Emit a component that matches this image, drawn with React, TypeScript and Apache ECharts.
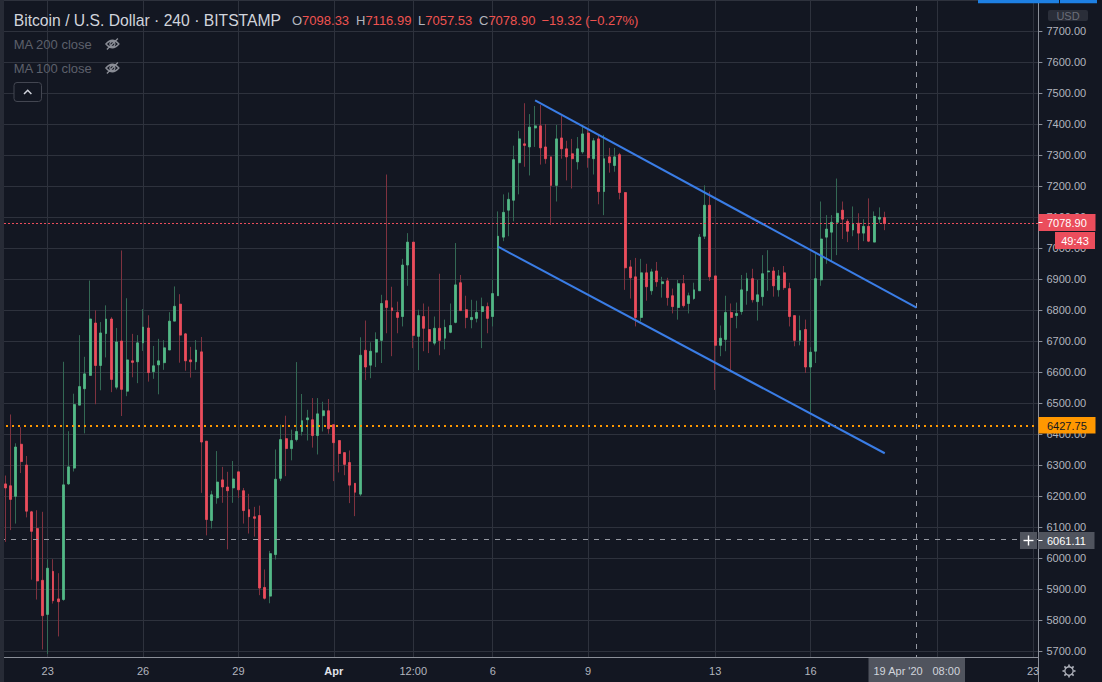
import React, { useEffect, useRef } from "react";
import * as echarts from "echarts";

const FONT = "'Liberation Sans', Arial, sans-serif";

// 4h slots, index 0 = 21 Mar 2020 12:00
const SLOT_COUNT = 197;
const FIRST_CANDLE_SLOT = 1;

const candleOpen = [
  6239, 6233, 6199, 6367, 6300, 6149, 6095, 5928, 5818, 5957,
  5868, 5866, 6239, 6290, 6493, 6546, 6589, 6758, 6621, 6724,
  6771, 6551, 6700, 6538, 6636, 6633, 6694, 6742, 6601, 6623,
  6630, 6671, 6764, 6819, 6723, 6639, 6633, 6665, 6377, 6121,
  6194, 6252, 6229, 6226, 6278, 6217, 6156, 6133, 6137, 5905,
  5877, 6011, 6257, 6385, 6353, 6382, 6408, 6446, 6446, 6395,
  6459, 6475, 6430, 6379, 6340, 6308, 6241, 6206, 6670, 6622,
  6664, 6702, 6830, 6807, 6792, 6779, 6945, 7019, 6715, 6779,
  6737, 6693, 6741, 6709, 6728, 6760, 6888, 6801, 6769, 6773,
  6795, 6811, 6779, 6846, 7035, 7122, 7154, 7275, 7336, 7326,
  7387, 7394, 7326, 7294, 7202, 7355, 7320, 7304, 7278, 7310,
  7371, 7288, 7352, 7182, 7294, 7266, 7301, 7179, 6939, 6907,
  6776, 6920, 6862, 6926, 6885, 6894, 6846, 6808, 6885, 6821,
  6837, 6862, 7038, 7138, 6910, 6686, 6705, 6792, 6782, 6795,
  6862, 6901, 6827, 6843, 6923, 6926, 6865, 6920, 6869, 6782,
  6702, 6737, 6616, 6667, 6897, 7035, 7051, 7083, 7122, 7086,
  7058, 7080, 7048, 7070, 7019, 7093, 7098.33,
];
const candleHigh = [
  6266, 6463, 6370, 6422, 6329, 6152, 6154, 6149, 5996, 5996,
  5951, 6633, 6409, 6530, 6719, 6649, 6895, 6799, 6761, 6815,
  6777, 6742, 6992, 6838, 6723, 6719, 6803, 6783, 6684, 6707,
  6703, 6793, 6876, 6851, 6726, 6681, 6703, 6713, 6377, 6217,
  6345, 6294, 6278, 6313, 6278, 6226, 6207, 6165, 6169, 5963,
  6023, 6350, 6430, 6459, 6414, 6632, 6529, 6478, 6516, 6516,
  6504, 6513, 6430, 6379, 6340, 6347, 6241, 6712, 6766, 6696,
  6728, 6849, 7237, 6875, 6827, 6965, 7048, 7019, 6801, 6821,
  6811, 6779, 6917, 6769, 6821, 7016, 6913, 6846, 6833, 6830,
  6840, 6824, 6897, 7118, 7173, 7179, 7330, 7378, 7467, 7432,
  7458, 7461, 7400, 7294, 7397, 7426, 7346, 7352, 7358, 7397,
  7384, 7355, 7362, 7365, 7323, 7323, 7307, 7179, 6961, 6968,
  6965, 6949, 6933, 6955, 6907, 6904, 6869, 6897, 6913, 6856,
  6888, 7045, 7202, 7182, 6910, 6750, 6846, 6821, 6824, 6913,
  6920, 6933, 6897, 6977, 6993, 6939, 6929, 6942, 6888, 6782,
  6782, 6769, 6680, 6981, 7150, 7106, 7106, 7224, 7150, 7093,
  7134, 7112, 7093, 7160, 7118, 7131, 7116.99,
];
const candleLow = [
  6052, 6090, 6111, 6274, 6131, 5930, 5866, 5705, 5690, 5853,
  5747, 5862, 6236, 6279, 6493, 6402, 6589, 6496, 6541, 6647,
  6535, 6544, 6458, 6522, 6583, 6564, 6668, 6569, 6578, 6528,
  6607, 6671, 6764, 6630, 6604, 6582, 6607, 6210, 6073, 6095,
  6175, 6178, 6028, 6178, 6194, 6111, 6079, 6069, 5880, 5866,
  5854, 5995, 6248, 6264, 6315, 6376, 6395, 6379, 6356, 6334,
  6408, 6401, 6248, 6276, 6267, 6177, 6135, 6200, 6574, 6580,
  6616, 6629, 6725, 6651, 6725, 6747, 6878, 6677, 6606, 6667,
  6661, 6686, 6654, 6673, 6725, 6757, 6798, 6741, 6741, 6760,
  6677, 6725, 6747, 6846, 7022, 7038, 7086, 7173, 7262, 7234,
  7326, 7269, 7272, 7074, 7150, 7288, 7218, 7192, 7253, 7304,
  7259, 7237, 7141, 7106, 7243, 7246, 7157, 6865, 6837, 6747,
  6763, 6830, 6849, 6875, 6840, 6814, 6789, 6769, 6808, 6789,
  6833, 6862, 7029, 6894, 6542, 6651, 6667, 6606, 6741, 6785,
  6817, 6824, 6766, 6814, 6862, 6843, 6843, 6865, 6747, 6683,
  6686, 6597, 6470, 6629, 6878, 6949, 6958, 6977, 7029, 7019,
  7038, 6994, 7022, 7019, 7019, 7080, 7057.53,
];
const candleClose = [
  6226, 6189, 6358, 6311, 6151, 6086, 5926, 5814, 5967, 5862,
  5859, 6236, 6294, 6495, 6553, 6594, 6771, 6621, 6726, 6771,
  6576, 6697, 6544, 6639, 6631, 6694, 6745, 6598, 6620, 6636,
  6678, 6764, 6812, 6719, 6636, 6633, 6671, 6374, 6124, 6204,
  6245, 6229, 6217, 6255, 6220, 6153, 6133, 6128, 5903, 5870,
  6014, 6254, 6382, 6353, 6379, 6408, 6443, 6452, 6395, 6465,
  6475, 6417, 6372, 6337, 6302, 6235, 6212, 6654, 6616, 6667,
  6705, 6821, 6808, 6798, 6776, 6945, 7019, 6718, 6782, 6741,
  6699, 6741, 6702, 6744, 6750, 6881, 6798, 6776, 6776, 6792,
  6811, 6773, 6853, 7038, 7115, 7157, 7285, 7352, 7331, 7390,
  7394, 7323, 7288, 7202, 7352, 7320, 7294, 7288, 7320, 7368,
  7291, 7346, 7182, 7288, 7275, 7294, 7179, 6936, 6904, 6776,
  6920, 6875, 6923, 6891, 6891, 6840, 6811, 6885, 6814, 6846,
  6865, 7035, 7138, 6907, 6686, 6709, 6792, 6776, 6789, 6865,
  6901, 6833, 6849, 6917, 6926, 6878, 6910, 6872, 6779, 6702,
  6734, 6616, 6664, 6901, 7029, 7061, 7083, 7112, 7093, 7054,
  7077, 7048, 7070, 7022, 7102, 7099, 7078.9,
];

// time axis
const timeTickSlots = [9, 27, 45, 63, 78, 93, 111, 135, 153, 177, 195];
const timeTickLabels = ["23", "26", "29", "Apr", "12:00", "6", "9", "13", "16", "", "23"];

// price levels
const lastPrice = 7078.9;
const alertPrice = 6427.75;
const crosshairPrice = 6061.11;
const crosshairSlot = 173;

// drawn trend channel [slot, price]
const upperTrend = [[101, 7475.9], [173, 6807.9]];
const lowerTrend = [[94, 7004.2], [167, 6337.9]];

const yMin = 5600;
const yMax = 7800;
const yStep = 100;

const EYE_D =
  "M0.5 6 Q7 -1.5 13.5 6 Q7 13.5 0.5 6 Z M9.5 6 A2.5 2.5 0 1 1 4.5 6 A2.5 2.5 0 1 1 9.5 6 Z M12.5 0.5 L1.5 11.5";
echarts.graphic.registerShape("eyeSlash", echarts.graphic.extendPath(EYE_D, {}));

function slotName(i: number) {
  const d = new Date(Date.UTC(2020, 2, 21, 12) + i * 4 * 3600 * 1000);
  return d.toISOString().slice(0, 16);
}

function buildOption() {
  const cats = Array.from({ length: SLOT_COUNT }, (_, i) => slotName(i));
  const tickSet = new Set(timeTickSlots);
  const labelMap: Record<number, string> = {};
  timeTickSlots.forEach((s, k) => (labelMap[s] = timeTickLabels[k]));

  const wickData: any[] = [];
  const bodyData: any[] = [];
  for (let i = 0; i < SLOT_COUNT; i++) {
    const k = i - FIRST_CANDLE_SLOT;
    if (k >= 0 && k < candleOpen.length) {
      const o = candleOpen[k], c = candleClose[k];
      wickData.push([o, c, candleLow[k], candleHigh[k]]);
      bodyData.push([o, c, Math.min(o, c), Math.max(o, c)]);
    } else {
      wickData.push("-");
      bodyData.push("-");
    }
  }

  const txt = (text: string, x: number, y: number, fill: string, size: number, extra: any = {}) => ({
    type: "text",
    z: 100,
    silent: true,
    style: {
      text,
      x,
      y,
      fill,
      fontSize: size,
      fontFamily: FONT,
      textAlign: extra.align || "left",
      textVerticalAlign: "middle",
      align: extra.align || "left",
      verticalAlign: "middle",
      fontWeight: extra.weight || "normal",
    },
  });

  const gearTeeth: any[] = [];
  for (let k = 0; k < 8; k++) {
    const a = (k * Math.PI) / 4;
    gearTeeth.push({
      type: "line",
      z: 100,
      shape: {
        x1: 1069 + 4.5 * Math.cos(a),
        y1: 671 + 4.5 * Math.sin(a),
        x2: 1069 + 6.5 * Math.cos(a),
        y2: 671 + 6.5 * Math.sin(a),
      },
      style: { stroke: "#b2b5be", lineWidth: 1.6 },
    });
  }

  const graphic: any[] = [
    // time axis band background
    { type: "rect", z: 10, shape: { x: 0, y: 658, width: 1038, height: 24 }, style: { fill: "#131722" } },
    // left toolbar separator
    { type: "rect", z: 100, shape: { x: 0, y: 0, width: 4, height: 682 }, style: { fill: "#272b36" } },
    // top blue bars
    { type: "rect", z: 100, shape: { x: 978, y: 0, width: 81, height: 3.3 }, style: { fill: "#1e80e3" } },
    { type: "rect", z: 100, shape: { x: 1060, y: 0, width: 37, height: 3.3 }, style: { fill: "#1e80e3" } },
    // USD box
    { type: "rect", z: 100, shape: { x: 1048, y: 10, width: 40, height: 11, r: 2 }, style: { fill: "#2a2e39" } },
    txt("USD", 1068, 15.7, "#6a6d78", 11, { align: "center" }),
    // last price box
    { type: "rect", z: 100, shape: { x: 1038.5, y: 214, width: 57, height: 17 }, style: { fill: "#eb4d5c" } },
    { type: "line", z: 101, shape: { x1: 1038.5, y1: 222.5, x2: 1042.5, y2: 222.5 }, style: { stroke: "#ffffff", lineWidth: 1 } },
    txt("7078.90", 1047, 222.8, "#ffffff", 11),
    { type: "rect", z: 100, shape: { x: 1055, y: 232, width: 40, height: 17 }, style: { fill: "#eb4d5c" } },
    txt("49:43", 1075, 240.7, "#ffffff", 11, { align: "center" }),
    // alert box
    { type: "rect", z: 100, shape: { x: 1038.5, y: 417, width: 57, height: 16.5 }, style: { fill: "#ff9800" } },
    txt("6427.75", 1047, 425.5, "#131722", 11),
    // crosshair price box
    { type: "rect", z: 100, shape: { x: 1038.5, y: 532, width: 56, height: 17 }, style: { fill: "#50545e" } },
    { type: "line", z: 101, shape: { x1: 1038.5, y1: 540.5, x2: 1042.5, y2: 540.5 }, style: { stroke: "#ffffff", lineWidth: 1 } },
    txt("6061.11", 1047, 540.7, "#ffffff", 11),
    { type: "rect", z: 100, shape: { x: 1020, y: 532, width: 17, height: 17 }, style: { fill: "#50545e" } },
    { type: "line", z: 101, shape: { x1: 1023.5, y1: 540.5, x2: 1033.5, y2: 540.5 }, style: { stroke: "#ffffff", lineWidth: 1.4 } },
    { type: "line", z: 101, shape: { x1: 1028.5, y1: 535.5, x2: 1028.5, y2: 545.5 }, style: { stroke: "#ffffff", lineWidth: 1.4 } },
    // crosshair time box
    { type: "rect", z: 100, shape: { x: 868.5, y: 658, width: 96.5, height: 24 }, style: { fill: "#50545e" } },
    txt("19 Apr '20", 873.5, 671, "#d1d4dc", 11),
    txt("08:00", 932.5, 671, "#d1d4dc", 11),
    // gear
    { type: "circle", z: 100, shape: { cx: 1069, cy: 671, r: 4.2 }, style: { fill: "none", stroke: "#b2b5be", lineWidth: 1.3 } },
    ...gearTeeth,
    // legend
    txt("Bitcoin / U.S. Dollar \u00b7 240 \u00b7 BITSTAMP", 13.7, 20, "#d1d4dc", 15.7),
    txt("O", 292, 20, "#b2b5be", 13),
    txt("7098.33", 302.1, 20, "#ef5350", 13),
    txt("H", 356, 20, "#b2b5be", 13),
    txt("7116.99", 365.4, 20, "#ef5350", 13),
    txt("L", 418, 20, "#b2b5be", 13),
    txt("7057.53", 425.2, 20, "#ef5350", 13),
    txt("C", 479, 20, "#b2b5be", 13),
    txt("7078.90", 488.4, 20, "#ef5350", 13),
    txt("\u221219.32 (\u22120.27%)", 541.5, 20, "#ef5350", 13),
    txt("MA 200 close", 13.7, 44, "#5d606b", 13),
    txt("MA 100 close", 13.7, 68, "#5d606b", 13),
    { type: "eyeSlash", z: 100, x: 105.4, y: 38, style: { fill: "none", stroke: "#8a8d96", lineWidth: 1.3 } },
    { type: "eyeSlash", z: 100, x: 105.4, y: 62, style: { fill: "none", stroke: "#8a8d96", lineWidth: 1.3 } },
    { type: "rect", z: 100, shape: { x: 14, y: 82.5, width: 27.5, height: 19, r: 3 }, style: { fill: "#131722", stroke: "#434651", lineWidth: 1 } },
    { type: "polyline", z: 101, shape: { points: [[24, 94], [27.7, 90.3], [31.4, 94]] }, style: { fill: "none", stroke: "#d1d4dc", lineWidth: 1.5 } },
  ];

  return {
    animation: false,
    backgroundColor: "#131722",
    textStyle: { fontFamily: FONT },
    grid: [
      { left: -1.5, top: -2.935, width: 1039.9, height: 687.1, show: false },
      { left: -1.5, top: 656.5, width: 1039.9, height: 1, show: false },
    ],
    xAxis: [
      {
        type: "category",
        gridIndex: 0,
        data: cats,
        boundaryGap: false,
        axisLine: { show: false },
        axisTick: { show: false },
        axisLabel: { show: false },
        splitLine: {
          show: true,
          interval: (i: number) => tickSet.has(i),
          lineStyle: { color: "#2e323d", width: 1 },
        },
      },
      {
        type: "category",
        gridIndex: 1,
        data: cats,
        boundaryGap: false,
        position: "bottom",
        z: 20,
        axisLine: { show: true, lineStyle: { color: "#8b8f99", width: 1 } },
        axisTick: { show: false },
        splitLine: { show: false },
        axisLabel: {
          interval: (i: number) => tickSet.has(i),
          formatter: (_v: string, i: number) =>
            labelMap[i] === "Apr" ? "{b|Apr}" : labelMap[i] || "",
          color: "#b2b5be",
          fontSize: 11,
          fontFamily: FONT,
          margin: 8,
          rich: { b: { color: "#e0e3eb", fontSize: 11, fontWeight: "bold", fontFamily: FONT } },
        },
      },
    ],
    yAxis: [
      {
        type: "value",
        gridIndex: 0,
        position: "right",
        min: yMin,
        max: yMax,
        interval: yStep,
        axisLine: { show: true, lineStyle: { color: "#8b8f99", width: 1 } },
        axisTick: { show: true, length: 4, lineStyle: { color: "#8b8f99" } },
        axisLabel: {
          color: "#b2b5be",
          fontSize: 11,
          fontFamily: FONT,
          margin: 8,
          formatter: (v: number) => (v === yMin || v === yMax ? "" : v.toFixed(2)),
        },
        splitLine: { show: true, lineStyle: { color: "#2e323d", width: 1 } },
      },
      { type: "value", gridIndex: 1, show: false },
    ],
    series: [
      {
        type: "candlestick",
        name: "wicks",
        xAxisIndex: 0,
        yAxisIndex: 0,
        data: wickData,
        barWidth: 0.2,
        z: 2,
        itemStyle: {
          color: "#336854",
          color0: "#7f323f",
          borderColor: "#336854",
          borderColor0: "#7f323f",
          borderColorDoji: "#7f323f",
          borderWidth: 1,
        },
      },
      {
        type: "candlestick",
        name: "bodies",
        xAxisIndex: 0,
        yAxisIndex: 0,
        data: bodyData,
        barWidth: 2.4,
        z: 3,
        itemStyle: {
          color: "#53b987",
          color0: "#eb4d5c",
          borderColor: "#53b987",
          borderColor0: "#eb4d5c",
          borderColorDoji: "#eb4d5c",
          borderWidth: 0.8,
        },
      },
      {
        type: "line",
        name: "upper",
        xAxisIndex: 0,
        yAxisIndex: 0,
        data: upperTrend,
        showSymbol: false,
        symbol: "none",
        z: 5,
        lineStyle: { color: "#3a7de6", width: 2 },
        markLine: {
          silent: true,
          symbol: ["none", "none"],
          label: { show: false },
          animation: false,
          data: [
            { yAxis: lastPrice, lineStyle: { color: "#eb4d5c", type: [2, 2], width: 1 } },
            { yAxis: alertPrice, lineStyle: { color: "#ff9800", type: [2, 4], width: 2 } },
            { yAxis: crosshairPrice, lineStyle: { color: "#9598a1", type: [5, 6], width: 1 } },
            { xAxis: cats[crosshairSlot], lineStyle: { color: "#9598a1", type: [5, 6], width: 1 } },
          ],
        },
      },
      {
        type: "line",
        name: "lower",
        xAxisIndex: 0,
        yAxisIndex: 0,
        data: lowerTrend,
        showSymbol: false,
        symbol: "none",
        z: 5,
        lineStyle: { color: "#3a7de6", width: 2 },
      },
    ],
    graphic,
  };
}

export default function App() {
  const ref = useRef<HTMLDivElement>(null);
  useEffect(() => {
    if (!ref.current) return;
    const chart = echarts.init(ref.current, undefined, { renderer: "svg" });
    chart.setOption(buildOption() as any);
    return () => chart.dispose();
  }, []);
  return (
    <div
      ref={ref}
      style={{ position: "fixed", left: 0, top: 0, width: 1102, height: 682, background: "#131722" }}
    />
  );
}
